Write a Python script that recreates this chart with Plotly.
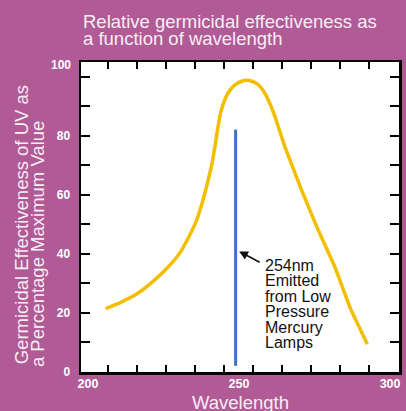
import plotly.graph_objects as go

# ---- data ----
wavelength_nm = [209.3, 214.5, 219.8, 225.5, 231.1, 235.0, 238.0, 240.5, 242.5, 244.3, 245.9,
                 246.9, 247.6, 248.8, 250.5, 252.0, 253.9, 255.8, 257.8, 259.8, 261.8, 263.6,
                 265.2, 267.5, 270.9, 273.8, 276.6, 279.5, 282.3, 285.2, 288.0, 290.8, 293.6,
                 296.5, 299.3]
effectiveness_pct = [21.5, 23.6, 26.3, 30.6, 35.9, 40.6, 46.0, 51.2, 57.3, 64.0, 70.8,
                     76.5, 81.0, 87.7, 92.8, 95.4, 97.3, 98.4, 98.8, 98.4, 97.3, 95.2,
                     92.2, 86.6, 76.4, 69.0, 61.8, 54.9, 48.3, 42.0, 35.9, 28.6, 21.3,
                     15.2, 9.4]
lamp_wavelength = [254, 254]
lamp_level = [2.1, 82.1]

x_minor_ticks = [210, 220, 230, 240, 250, 260, 270, 280, 290, 300]
x_tick_labels = [200, 250, 300]
y_tick_vals = [0, 20, 40, 60, 80, 100]
y_tick_text = ["0", "20", "40", "60", "80", ""]
y_minor_ticks = [10, 30, 50, 70, 90]

title_lines = ["Relative germicidal effectiveness as", "a function of wavelength"]
ytitle_lines = ["Germicidal Effectiveness of UV as", "a Percentage Maximum Value"]
note_lines = ["254nm", "Emitted", "from Low", "Pressure", "Mercury", "Lamps"]

# ---- layout geometry ----
W, H = 406, 411
ML, MR, MT, MB = 81, 4, 62, 38.5
PW, PH = W - ML - MR, H - MT - MB


def px(x):
    return (x - ML) / PW


def py(y):
    return (H - MB - y) / PH


BG = "#B05A96"
TXT = "#F7EDF4"
FONT = "Liberation Sans, Arial, Helvetica, sans-serif"

fig = go.Figure()
fig.add_trace(go.Scatter(x=wavelength_nm, y=effectiveness_pct, mode="lines",
                         line=dict(color="#F2BE00", width=3.5, shape="spline", smoothing=0.6),
                         hoverinfo="skip", showlegend=False))
fig.add_trace(go.Scatter(x=lamp_wavelength, y=lamp_level, mode="lines",
                         line=dict(color="#3D72C2", width=3),
                         hoverinfo="skip", showlegend=False))
fig.add_trace(go.Scatter(x=[250], y=[50], xaxis="x2", mode="markers",
                         marker=dict(opacity=0), hoverinfo="skip", showlegend=False))

ann = []
# title
for i, t in enumerate(title_lines):
    ann.append(dict(text=t, x=px(81), y=py(21 + 17.7 * i), xref="paper", yref="paper",
                    xanchor="left", yanchor="middle", showarrow=False,
                    font=dict(family=FONT, size=18.5, color=TXT)))
# y title
for i, (t, cx, cy) in enumerate(zip(ytitle_lines, [21, 37], [225, 244])):
    ann.append(dict(text=t, x=px(cx), y=py(cy), xref="paper", yref="paper",
                    xanchor="center", yanchor="middle", textangle=-90, showarrow=False,
                    font=dict(family=FONT, size=18.5, color=TXT)))
# x title
ann.append(dict(text="Wavelength", x=px(242), y=py(403), xref="paper", yref="paper",
                xanchor="center", yanchor="middle", showarrow=False,
                font=dict(family=FONT, size=18.5, color=TXT)))
# "100" label at top of y axis
ann.append(dict(text="100", x=px(73), y=py(65), xref="paper", yref="paper",
                xanchor="right", yanchor="middle", showarrow=False,
                font=dict(family=FONT, size=12, color="white", weight="bold")))
# note text
for i, t in enumerate(note_lines):
    ann.append(dict(text=t, x=px(265), y=py(265.7 + 15.5 * i), xref="paper", yref="paper",
                    xanchor="left", yanchor="middle", showarrow=False,
                    font=dict(family=FONT, size=16, color="#111111")))
# arrow
ann.append(dict(text="", x=px(240.7), y=py(251.7), xref="paper", yref="paper",
                ax=22, ay=11.6, showarrow=True, arrowhead=2, arrowsize=1.1,
                arrowwidth=1.6, arrowcolor="#111111", standoff=0))

fig.update_layout(
    width=W, height=H,
    margin=dict(l=ML, r=MR, t=MT, b=MB, pad=0),
    paper_bgcolor=BG, plot_bgcolor="white",
    showlegend=False,
    xaxis=dict(range=[200.8, 310.2], tickvals=x_minor_ticks, showticklabels=False,
               ticks="inside", ticklen=7, tickwidth=2, tickcolor="black",
               showline=True, linewidth=2.5, linecolor="black", mirror="allticks",
               showgrid=False, zeroline=False, fixedrange=True),
    xaxis2=dict(range=[197.7, 302.95], overlaying="x", anchor="y", side="bottom",
                tickvals=x_tick_labels, ticks="", showline=False, showgrid=False,
                zeroline=False, ticklabelstandoff=2,
                tickfont=dict(family=FONT, size=12.5, color="white", weight="bold")),
    yaxis=dict(range=[0, 105], tickvals=y_tick_vals, ticktext=y_tick_text,
               ticks="inside", ticklen=9, tickwidth=2, tickcolor="black",
               minor=dict(tickvals=y_minor_ticks, ticks="inside", ticklen=6,
                          tickwidth=2, tickcolor="black", showgrid=False),
               showline=True, linewidth=2.5, linecolor="black", mirror="allticks",
               showgrid=False, zeroline=False, ticklabelstandoff=6,
               tickfont=dict(family=FONT, size=12, color="white", weight="bold")),
    annotations=ann,
)

fig.write_html("out.html", config={"displayModeBar": False, "staticPlot": True},
               post_script="document.body.style.margin='0';document.body.style.overflow='hidden';")
